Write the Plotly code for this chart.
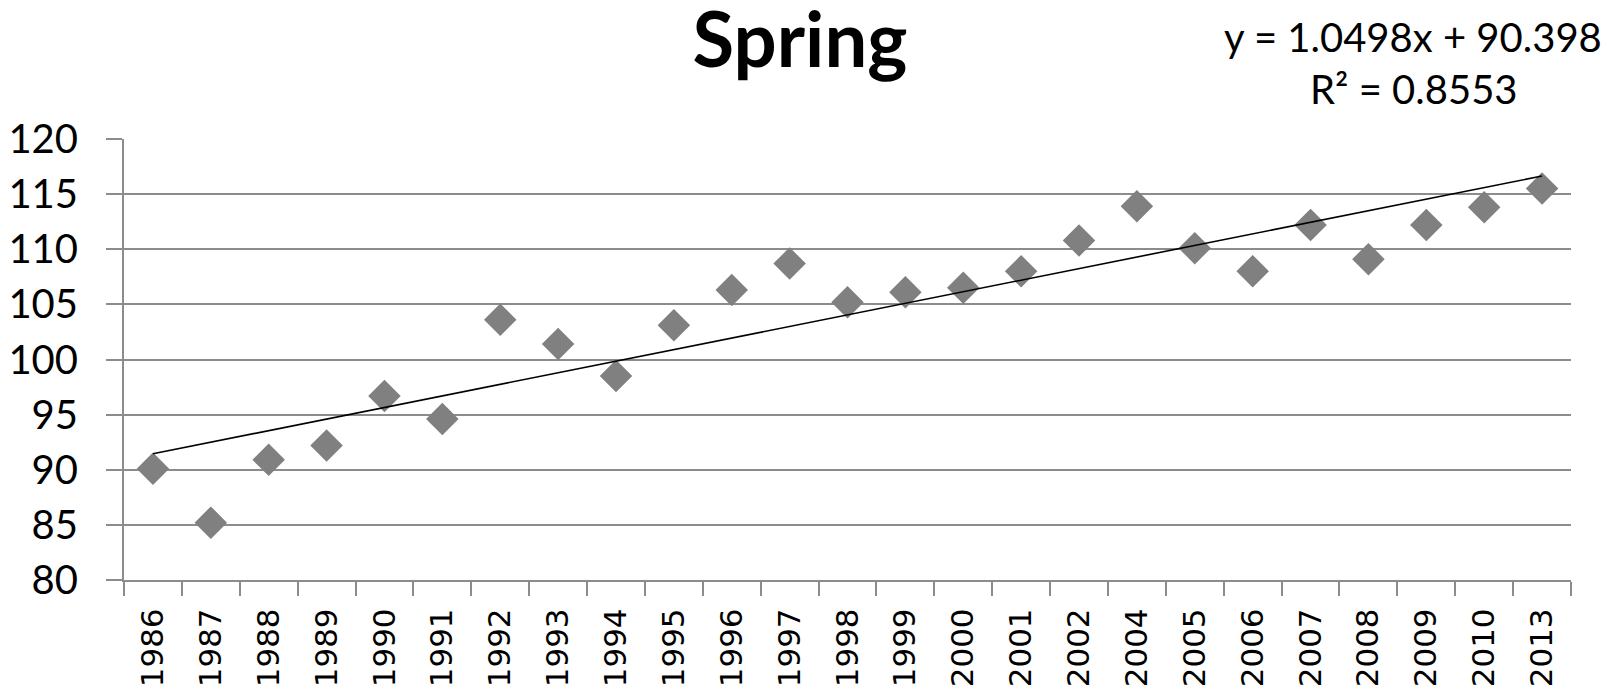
import plotly.graph_objects as go

years = ["1986", "1987", "1988", "1989", "1990", "1991", "1992", "1993", "1994",
         "1995", "1996", "1997", "1998", "1999", "2000", "2001", "2002", "2004",
         "2005", "2006", "2007", "2008", "2009", "2010", "2013"]
spring = [90.1, 85.2, 90.9, 92.2, 96.7, 94.6, 103.6, 101.4, 98.5,
          103.1, 106.3, 108.7, 105.2, 106.1, 106.5, 108.0, 110.8, 113.9,
          110.1, 108.0, 112.2, 109.1, 112.2, 113.8, 115.5]

trend_slope = 1.0498
trend_intercept = 90.398
r_squared = 0.8553

y_ticks = [80, 85, 90, 95, 100, 105, 110, 115, 120]

trend = [trend_slope * (i + 1) + trend_intercept for i in range(len(years))]

grid_col = "#8c8c8c"

# page has an 8px body margin; figure coordinates are offset accordingly
OFF = 8
W, H = 1620 - OFF, 696 - OFF
L, R, T, B = 124 - OFF, 1571 - OFF, 139 - OFF, 580 - OFF


def px_x(x):
    return (x - OFF - L) / (R - L)


def px_y(y):
    return (B - (y - OFF)) / (B - T)


fig = go.Figure()
fig.add_trace(go.Scatter(
    x=years, y=spring, mode="markers",
    marker=dict(symbol="diamond", size=25, color="#808080", line=dict(width=0)),
    showlegend=False, cliponaxis=False,
))
fig.add_trace(go.Scatter(
    x=[years[0], years[-1]], y=[trend[0], trend[-1]], mode="lines",
    line=dict(color="#000000", width=1.6),
    showlegend=False,
))

fig.update_layout(
    width=W, height=H,
    margin=dict(l=L, r=W - R, t=T, b=H - B),
    paper_bgcolor="white", plot_bgcolor="white",
    title=dict(text="<b>Spring</b>", x=(800 - OFF) / W, xanchor="center",
               y=1 - (40 - OFF) / H, yanchor="middle",
               font=dict(family="Lato", size=76, color="#000000")),
    annotations=[
        dict(text=f"y = {trend_slope}x + {trend_intercept}", xref="paper", yref="paper",
             x=px_x(1413), y=px_y(37),
             xanchor="center", yanchor="middle", showarrow=False,
             font=dict(family="Lato", size=40, color="#000000")),
        dict(text=f"R² = {r_squared}", xref="paper", yref="paper",
             x=px_x(1414), y=px_y(89),
             xanchor="center", yanchor="middle", showarrow=False,
             font=dict(family="Lato", size=40, color="#000000")),
    ],
)
fig.update_xaxes(
    type="category", range=[-0.5, len(years) - 0.5], automargin=False,
    tickson="boundaries", ticks="outside", ticklen=14,
    tickcolor=grid_col, tickwidth=2, showline=True, linecolor=grid_col, linewidth=2,
    showgrid=False, tickangle=-90, ticklabelstandoff=14,
    tickfont=dict(family="DejaVu Sans", size=31, color="#000000"),
)
fig.update_yaxes(
    range=[80, 120], tickvals=y_ticks, ticks="outside", ticklen=16, automargin=False,
    tickcolor=grid_col, tickwidth=2, showline=True, linecolor=grid_col, linewidth=2,
    showgrid=True, gridcolor=grid_col, gridwidth=2, zeroline=False,
    ticklabelstandoff=20,
    tickfont=dict(family="Lato", size=40, color="#000000"),
)

fig.write_html("out.html")
